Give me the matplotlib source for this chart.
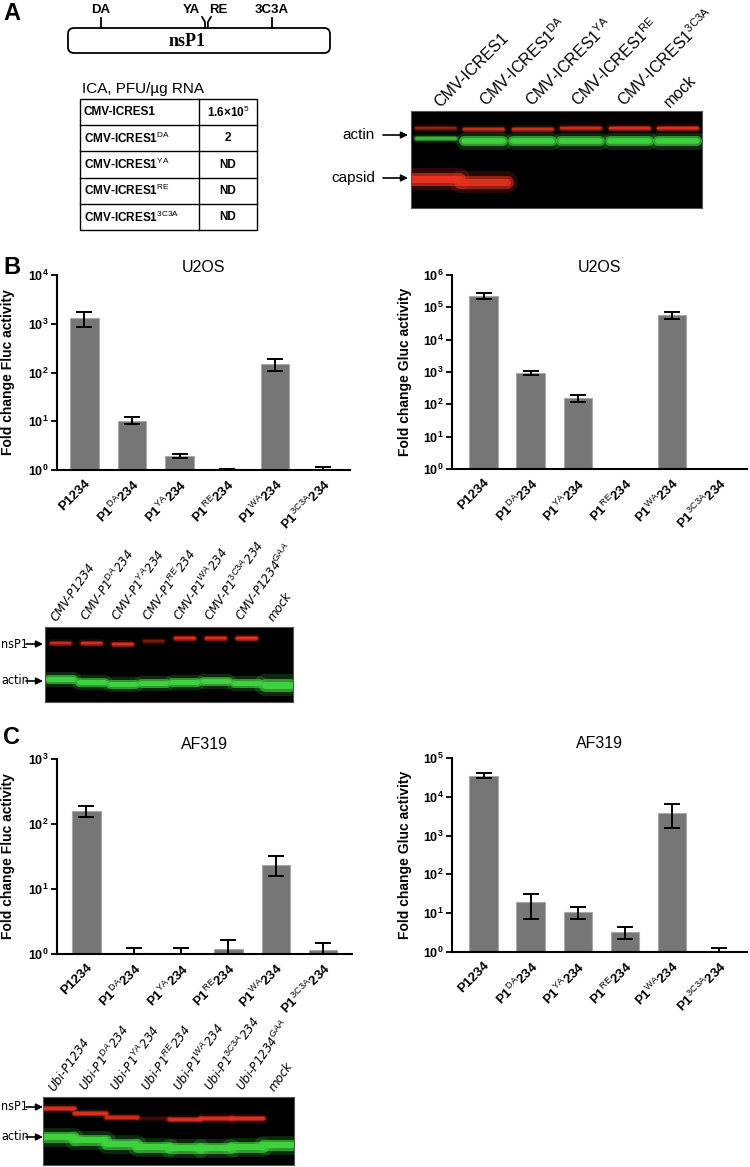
import numpy as np
import matplotlib.pyplot as plt
from matplotlib import font_manager as fm
from matplotlib.patches import FancyBboxPatch, Rectangle

plt.rcParams['font.family'] = ['Liberation Sans', 'DejaVu Sans']
plt.rcParams['mathtext.fontset'] = 'custom'
plt.rcParams['mathtext.rm'] = 'Liberation Sans'
plt.rcParams['mathtext.it'] = 'Liberation Sans:italic'
plt.rcParams['mathtext.bf'] = 'Liberation Sans:bold'

W, H = 750, 1167

# narrow font for the blot labels, if there is one
fonts = fm.fontManager.ttflist
if any(f.name == 'Liberation Sans Narrow' for f in fonts):
    NARROW = dict(family='Liberation Sans Narrow')
    lane_fs, arrow_fs, arrow_x0 = 11, 11, 24
elif any(f.name == 'DejaVu Sans' and f.stretch == 'condensed' for f in fonts):
    NARROW = dict(family='DejaVu Sans', fontstretch='condensed')
    lane_fs, arrow_fs, arrow_x0 = 9.5, 9, 26
else:
    NARROW = dict(family='Liberation Sans')
    lane_fs, arrow_fs, arrow_x0 = 9.5, 8.5, 27

# ---- data ----
mutants = ["DA", "YA", "RE", "WA", "3C3A"]
bar_labels = ["P1234"] + [r"P1$^{\rm %s}$234" % m for m in mutants]

# panel A
site_names = ["DA", "YA", "RE", "3C3A"]
site_pos = [0.126, 0.523, 0.534, 0.779]       # fraction along nsP1
ica_rows = ["CMV-ICRES1", r"CMV-ICRES1$^{\rm DA}$", r"CMV-ICRES1$^{\rm YA}$",
            r"CMV-ICRES1$^{\rm RE}$", r"CMV-ICRES1$^{\rm 3C3A}$"]
ica_vals = [r"1.6×10$^{\rm 5}$", "2", "ND", "ND", "ND"]

blotA_lanes = ica_rows + ["mock"]
blotA_actin_red = [0.45, 0.75, 0.8, 0.75, 0.85, 0.9]
blotA_actin_green = [0.75, 1.0, 1.0, 0.95, 1.0, 1.0]
blotA_capsid = [1.0, 0.85, 0, 0, 0, 0]
blotA_red_y = [17, 17.5, 17.5, 17, 17, 17]
blotA_green_y = [27, 30, 30, 30, 30, 29.5]
blotA_green_w = [5, 10, 10, 10, 10, 10]
blotA_capsid_y = [68, 71, 0, 0, 0, 0]

# panel B
fluc_u2os = [1300, 10.3, 1.94, 1.03, 149, 1.0]
fluc_u2os_lo = [860, 8.9, 1.79, 1.0, 109, 0.9]
fluc_u2os_hi = [1740, 12.2, 2.1, 1.04, 192, 1.17]

gluc_u2os = [2.2e5, 960, 158, np.nan, 5.8e4, np.nan]
gluc_u2os_lo = [1.8e5, 815, 120, np.nan, 4.5e4, np.nan]
gluc_u2os_hi = [2.7e5, 1100, 200, np.nan, 7.3e4, np.nan]

blotB_lanes = ["CMV-P1234"] + [r"CMV-P1$^{\it %s}$234" % m for m in mutants] + \
              [r"CMV-P1234$^{\it GAA}$", "mock"]
blotB_nsp1 = [0.7, 0.8, 0.85, 0.35, 0.85, 0.85, 1.0, 0]
blotB_actin = [1, 1, 1, 1, 1, 1, 1, 1]
blotB_nsp1_y = [16, 16, 17, 14, 11, 10.5, 10.5, 10]
blotB_actin_y = [52, 54.5, 57, 55.5, 54.5, 54, 56, 58]
blotB_actin_w = [9, 9, 9, 9, 9, 9, 9, 13]

# panel C
fluc_af319 = [156, 1.04, 1.0, 1.21, 23.7, 1.16]
fluc_af319_lo = [128, 0.9, 0.9, 0.9, 15.6, 0.9]
fluc_af319_hi = [187, 1.22, 1.22, 1.64, 31.8, 1.48]

gluc_af319 = [3.5e4, 18.9, 10.6, 3.2, 3900, 1.0]
gluc_af319_lo = [3.0e4, 7.0, 7.3, 2.1, 1550, 0.9]
gluc_af319_hi = [4.2e4, 30.5, 14.1, 4.4, 6600, 1.3]

blotC_lanes = ["Ubi-P1234"] + [r"Ubi-P1$^{\it %s}$234" % m for m in mutants] + \
              [r"Ubi-P1234$^{\it GAA}$", "mock"]
blotC_nsp1 = [0.85, 0.9, 0.8, 0.15, 0.85, 0.85, 0.9, 0]
blotC_actin = [1, 1, 1, 1, 1, 1, 1, 1]
blotC_nsp1_y = [11, 15.5, 20, 21, 21.5, 21, 21, 21]
blotC_actin_y = [40, 43, 47, 49.5, 50.5, 51, 50, 47.5]

RED = '#e8321e'
GREEN = '#3fd23f'


def px_rect(x0, y0, x1, y1):
    return [x0 / W, 1 - y1 / H, (x1 - x0) / W, (y1 - y0) / H]


fig = plt.figure(figsize=(W / 100, H / 100), dpi=100)


def bar_panel(rect, vals, lo, hi, top_exp, ylabel, title, xlim, label_right, title_pad):
    ax = fig.add_axes(px_rect(*rect))
    ax.set_facecolor('none')
    vals, lo, hi = np.array(vals, float), np.array(lo, float), np.array(hi, float)
    x = np.arange(len(vals))
    ok = ~np.isnan(vals)
    ax.bar(x[ok], vals[ok], width=0.6, color='#767676', edgecolor='#a8a8a8', lw=0.8, zorder=2)
    ax.errorbar(x[ok], vals[ok], yerr=[vals[ok] - lo[ok], hi[ok] - vals[ok]], fmt='none',
                ecolor='black', elinewidth=1.4, capsize=6, capthick=1.4, zorder=3)
    ax.set_yscale('log')
    ax.set_ylim(1, 10 ** top_exp)
    ax.set_xlim(*xlim)
    exps = np.arange(0, top_exp + 1)
    ax.set_yticks(10.0 ** exps, [r'$\mathdefault{10^{%d}}$' % e for e in exps],
                  fontweight='bold', fontsize=9)
    ax.yaxis.set_minor_locator(plt.NullLocator())
    ax.set_xticks(x, bar_labels, rotation=45, ha='right', rotation_mode='anchor',
                  fontweight='bold', fontsize=9.5)
    ax.tick_params(axis='x', length=0, pad=5)
    ax.tick_params(axis='y', length=4, width=1.3, pad=2)
    for s in ['top', 'right']:
        ax.spines[s].set_visible(False)
    for s in ['left', 'bottom']:
        ax.spines[s].set_linewidth(1.5)
    ax.set_ylabel(ylabel, fontweight='bold', fontsize=10)
    ax.yaxis.set_label_coords((label_right - rect[0]) / (rect[2] - rect[0]), 0.5)
    ax.set_title(title, fontsize=11.5, pad=title_pad)
    return ax


def band(ax, ys, intens, color, thick, gap=0.08):
    thick = np.broadcast_to(thick, len(ys))
    for i, (y, a, t) in enumerate(zip(ys, intens, thick)):
        if a <= 0:
            continue
        for scale, al in [(1.7, 0.2), (1.0, 0.65), (0.55, 1.0)]:
            ax.plot([i + gap + 0.1, i + 0.9 - gap], [y, y], color=color,
                    lw=t * scale * 0.72, alpha=min(1, al * a), solid_capstyle='round')


def blot(rect, nlanes):
    ax = fig.add_axes(px_rect(*rect))
    ax.set_facecolor('black')
    ax.set_xlim(0, nlanes)
    ax.set_ylim(rect[3] - rect[1], 0)
    ax.set_xticks([])
    ax.set_yticks([])
    for s in ax.spines.values():
        s.set_color('#555555')
        s.set_linewidth(0.8)
    return ax


# ---- bar charts ----
bar_panel((57, 275, 350, 470), fluc_u2os, fluc_u2os_lo, fluc_u2os_hi, 4,
          'Fold change Fluc activity', 'U2OS', (-0.57, 5.57), 15, 1)
bar_panel((452, 275, 747, 469), gluc_u2os, gluc_u2os_lo, gluc_u2os_hi, 6,
          'Fold change Gluc activity', 'U2OS', (-0.67, 5.6), 412, 1)
bar_panel((57, 759, 352, 954), fluc_af319, fluc_af319_lo, fluc_af319_hi, 3,
          'Fold change Fluc activity', 'AF319', (-0.62, 5.61), 15, 7)
bar_panel((452, 758, 747, 952), gluc_af319, gluc_af319_lo, gluc_af319_hi, 5,
          'Fold change Gluc activity', 'AF319', (-0.67, 5.6), 412, 7)

# ---- blots ----
blotA_rect = (411, 111, 702, 208)
axA = blot(blotA_rect, 6)
band(axA, blotA_red_y, blotA_actin_red, RED, 4.5, gap=0.0)
band(axA, blotA_green_y, blotA_actin_green, GREEN, blotA_green_w, gap=0.0)
band(axA, blotA_capsid_y, blotA_capsid, RED, 13, gap=-0.08)

axB = blot((45, 627, 293, 702), 8)
band(axB, blotB_nsp1_y, blotB_nsp1, RED, 4.5)
band(axB, blotB_actin_y, blotB_actin, GREEN, blotB_actin_w, gap=0.0)
for i, lab in enumerate(blotB_lanes):
    axB.text(i + 0.45, -3, lab, rotation=55, ha='left', va='bottom', rotation_mode='anchor',
             fontsize=lane_fs, style='italic', clip_on=False, **NARROW)

axC = blot((43, 1097, 294, 1165), 8)
band(axC, blotC_nsp1_y, blotC_nsp1, RED, 5, gap=-0.1)
band(axC, blotC_actin_y, blotC_actin, GREEN, 11, gap=-0.1)
for i, lab in enumerate(blotC_lanes):
    axC.text(i + 0.45, -3, lab, rotation=55, ha='left', va='bottom', rotation_mode='anchor',
             fontsize=lane_fs, style='italic', clip_on=False, **NARROW)

# ---- overlay: letters, diagram, table, arrows ----
ov = fig.add_axes([0, 0, 1, 1], zorder=10)
ov.set_xlim(0, W)
ov.set_ylim(H, 0)
ov.axis('off')

for letter, y in [('A', 13), ('B', 267), ('C', 737)]:
    ov.text(3, y, letter, fontsize=17, fontweight='bold', va='center', ha='left')

# lane labels of blot A, written in figure pixels
lane_w = (blotA_rect[2] - blotA_rect[0]) / len(blotA_lanes)
for i, lab in enumerate(blotA_lanes):
    lx = blotA_rect[0] + (i + 0.6) * lane_w - i * 2.5
    ov.text(lx, blotA_rect[1] - 3, lab, rotation=45, ha='left', va='baseline',
            rotation_mode='anchor', fontsize=11.5)

# nsP1 diagram
bx0, bx1, by0, by1 = 68, 330, 28, 53
ov.add_patch(FancyBboxPatch((bx0, by0), bx1 - bx0, by1 - by0,
                            boxstyle='round,pad=0,rounding_size=6', fc='white', ec='black', lw=1.3))
ov.text((bx0 + bx1) / 2 - 12, 41, 'nsP1', family=['Liberation Serif', 'DejaVu Serif'],
        fontweight='bold', fontsize=13, ha='center', va='center')
for name, f in zip(site_names, site_pos):
    sx = bx0 + f * (bx1 - bx0)
    if name == 'YA':
        ov.plot([sx, sx, sx - 3], [by0, by0 - 6, by0 - 11], color='black', lw=1.3)
        ov.text(sx - 5, 10, name, fontsize=9.5, fontweight='bold', ha='right', va='center')
    elif name == 'RE':
        ov.plot([sx, sx, sx + 3], [by0, by0 - 6, by0 - 11], color='black', lw=1.3)
        ov.text(sx + 1, 10, name, fontsize=9.5, fontweight='bold', ha='left', va='center')
    else:
        ov.plot([sx, sx], [by0, by0 - 10], color='black', lw=1.3)
        ov.text(sx, 10, name, fontsize=9.5, fontweight='bold', ha='center', va='center')

# ICA table
ov.text(82, 89, 'ICA, PFU/µg RNA', fontsize=11, va='center', ha='left')
tx0, tx1, tsplit, ty0, ty1 = 80, 257, 199, 99, 230
rh = (ty1 - ty0) / len(ica_rows)
ov.add_patch(Rectangle((tx0, ty0), tx1 - tx0, ty1 - ty0, fc='none', ec='black', lw=1.0))
ov.plot([tsplit, tsplit], [ty0, ty1], color='black', lw=1.0)
for k, (r, v) in enumerate(zip(ica_rows, ica_vals)):
    yc = ty0 + (k + 0.5) * rh
    if k > 0:
        ov.plot([tx0, tx1], [ty0 + k * rh, ty0 + k * rh], color='black', lw=1.0)
    ov.text(tx0 + 4, yc, r, fontsize=8.5, fontweight='bold', va='center', ha='left')
    ov.text((tsplit + tx1) / 2, yc, v, fontsize=8.5, fontweight='bold', va='center', ha='center')


def arrow(x0, x1, y):
    ov.annotate('', xy=(x1, y), xytext=(x0, y),
                arrowprops=dict(arrowstyle='-|>', color='black', lw=1.2, mutation_scale=10,
                                shrinkA=0, shrinkB=0))


for lab, y in [('actin', 135), ('capsid', 178)]:
    ov.text(375, y, lab, fontsize=11, ha='right', va='center')
    arrow(383, 408, y)

for lab, y in [('nsP1', 644), ('actin', 681), ('nsP1', 1107), ('actin', 1137)]:
    ov.text(1, y, lab, fontsize=arrow_fs, ha='left', va='center', **NARROW)
    arrow(arrow_x0, 43, y)

fig.savefig('out.png', dpi=100)
